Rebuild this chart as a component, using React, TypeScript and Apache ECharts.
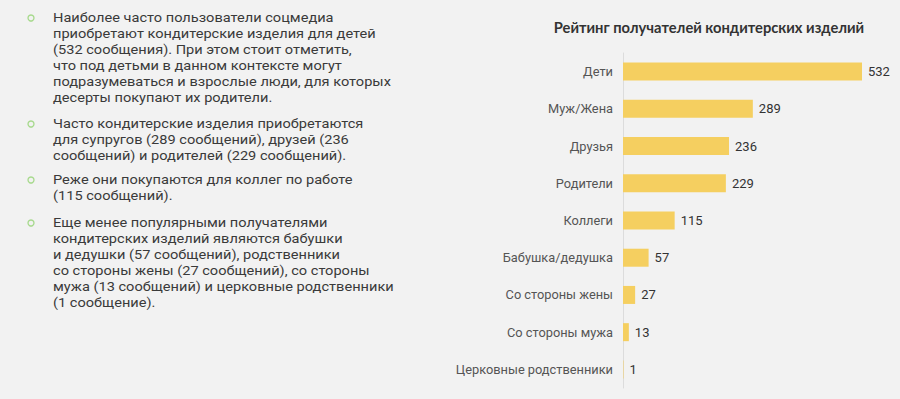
import React, { useEffect, useRef } from "react";
import * as echarts from "echarts";

const categories = [
  "Дети",
  "Муж/Жена",
  "Друзья",
  "Родители",
  "Коллеги",
  "Бабушка/дедушка",
  "Со стороны жены",
  "Со стороны мужа",
  "Церковные родственники",
];
const values = [532, 289, 236, 229, 115, 57, 27, 13, 1];
const chartTitle = "Рейтинг получателей кондитерских изделий";

const paragraphs: string[][] = [
  [
    "Наиболее часто пользователи соцмедиа",
    "приобретают кондитерские изделия для детей",
    "(532 сообщения). При этом стоит отметить,",
    "что под детьми в данном контексте могут",
    "подразумеваться и взрослые люди, для которых",
    "десерты покупают их родители.",
  ],
  [
    "Часто кондитерские изделия приобретаются",
    "для супругов (289 сообщений), друзей (236",
    "сообщений) и родителей (229 сообщений).",
  ],
  ["Реже они покупаются для коллег по работе", "(115 сообщений)."],
  [
    "Еще менее популярными получателями",
    "кондитерских изделий являются бабушки",
    "и дедушки (57 сообщений), родственники",
    "со стороны жены (27 сообщений), со стороны",
    "мужа (13 сообщений) и церковные родственники",
    "(1 сообщение).",
  ],
];
const paragraphTops = [17, 123, 179, 222];

export default function App() {
  const ref = useRef<HTMLDivElement>(null);
  useEffect(() => {
    document.body.style.margin = "0";
    document.body.style.background = "#f2f2f2";
    const chart = echarts.init(ref.current!, undefined, { renderer: "svg" });
    const graphics: any[] = [];
    paragraphs.forEach((lines, pi) => {
      const y0 = paragraphTops[pi];
      graphics.push({
        type: "circle",
        shape: { cx: 31, cy: y0 + 1, r: 3 },
        style: { fill: "none", stroke: "#a5d98a", lineWidth: 1.3 },
      });
      lines.forEach((line, li) => {
        graphics.push({
          type: "text",
          x: 53,
          y: y0 + li * 16,
          scaleY: 0.92,
          style: {
            text: line,
            fontFamily: "Roboto",
            fontSize: 14.6,
            fill: "#3a3a3a",
            textVerticalAlign: "middle",
          },
        });
      });
    });
    graphics.push({
      type: "text",
      x: 709,
      y: 27,
      style: {
        text: chartTitle,
        fontFamily: "Lato",
        fontWeight: "bold",
        fontSize: 14.7,
        fill: "#333",
        textAlign: "center",
        textVerticalAlign: "middle",
      },
    });
    chart.setOption({
      animation: false,
      backgroundColor: "#f2f2f2",
      graphic: graphics,
      grid: { left: 623, right: 38, top: 53, bottom: 11 },
      xAxis: { type: "value", min: 0, max: 532, show: false },
      yAxis: {
        type: "category",
        data: categories,
        inverse: true,
        axisLine: { show: true, lineStyle: { color: "#dcdcdc" } },
        axisTick: { show: false },
        axisLabel: {
          fontFamily: "Roboto",
          fontSize: 12.8,
          color: "#555",
          margin: 10,
        },
      },
      series: [
        {
          type: "bar",
          data: values,
          barWidth: 18,
          itemStyle: { color: "#f5cf60" },
          label: {
            show: true,
            position: "right",
            distance: 6,
            fontFamily: "Roboto",
            fontSize: 13,
            color: "#333",
          },
        },
      ],
    });
    return () => chart.dispose();
  }, []);
  return <div ref={ref} style={{ width: 900, height: 399 }} />;
}
